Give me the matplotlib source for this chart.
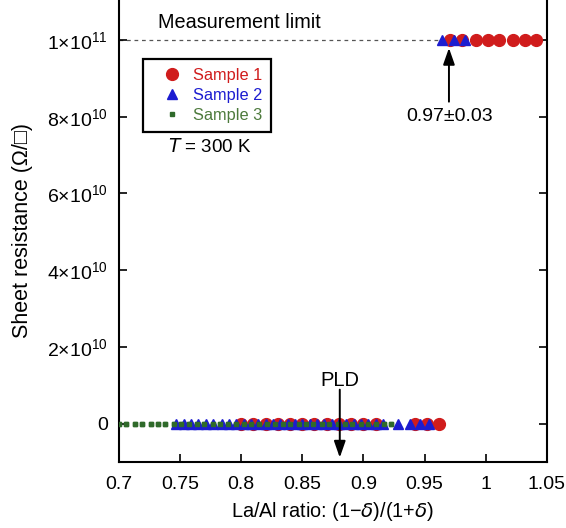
import matplotlib
matplotlib.use("Agg")
import matplotlib.pyplot as plt

plt.rcParams["font.family"] = ["Liberation Sans", "DejaVu Sans"]
plt.rcParams["mathtext.default"] = "regular"

# --- Data ----------------------------------------------------------------
limit = 1e11

s1_x_zero = [0.80, 0.81, 0.82, 0.83, 0.84, 0.85, 0.86, 0.87, 0.88, 0.89,
             0.90, 0.91, 0.942, 0.952, 0.962]
s1_x_limit = [0.971, 0.981, 0.992, 1.002, 1.011, 1.022, 1.032, 1.041]

s2_x_zero = [0.747, 0.753, 0.759, 0.765, 0.771, 0.777, 0.784, 0.790, 0.796,
             0.802, 0.808, 0.814, 0.820, 0.826, 0.832, 0.838, 0.844, 0.850,
             0.856, 0.862, 0.868, 0.874, 0.880, 0.886, 0.892, 0.898, 0.904,
             0.910, 0.916, 0.928, 0.938, 0.946, 0.954]
s2_x_limit = [0.9645, 0.974, 0.9835]

s3_x_zero = [0.700, 0.706, 0.713, 0.719, 0.726, 0.732, 0.738, 0.745, 0.751,
             0.757, 0.764, 0.770, 0.777, 0.783, 0.789, 0.796, 0.802, 0.808,
             0.815, 0.821, 0.828, 0.834, 0.840, 0.847, 0.853, 0.859, 0.866,
             0.872, 0.879, 0.885, 0.891, 0.898, 0.904, 0.910, 0.917, 0.923]

y_ticks = [0, 2e10, 4e10, 6e10, 8e10, 1e11]
y_tick_labels = ["0", r"$2{\times}10^{10}$", r"$4{\times}10^{10}$",
                 r"$6{\times}10^{10}$", r"$8{\times}10^{10}$", r"$1{\times}10^{11}$"]
x_ticks = [0.7, 0.75, 0.8, 0.85, 0.9, 0.95, 1.0, 1.05]
x_tick_labels = ["0.7", "0.75", "0.8", "0.85", "0.9", "0.95", "1", "1.05"]

red = "#d01c1c"
blue = "#1c1cd0"
green = "#2f6a2a"

# --- Plot -----------------------------------------------------------------
fig = plt.figure(figsize=(5.66, 5.28), dpi=100)
ax = fig.add_axes([0.210, 0.125, 0.756, 0.875])

ax.axhline(limit, color="#555555", lw=0.9, ls=(0, (3, 3)), zorder=1)

ax.plot(s3_x_zero, [0] * len(s3_x_zero), ls="none", marker="s", ms=3.4,
        color=green, zorder=2, label="Sample 3")
ax.plot(s1_x_zero, [0] * len(s1_x_zero), ls="none", marker="o", ms=8.5,
        color=red, zorder=3)
ax.plot(s1_x_limit, [limit] * len(s1_x_limit), ls="none", marker="o", ms=8.5,
        color=red, zorder=3, label="Sample 1")
ax.plot(s2_x_zero, [0] * len(s2_x_zero), ls="none", marker="^", ms=6.8,
        color=blue, zorder=4)
ax.plot(s2_x_limit, [limit] * len(s2_x_limit), ls="none", marker="^", ms=6.8,
        color=blue, zorder=4, label="Sample 2")
# green drawn again on top so it shows through as in the original
ax.plot(s3_x_zero, [0] * len(s3_x_zero), ls="none", marker="s", ms=3.4,
        color=green, zorder=5)

ax.set_xlim(0.7, 1.05)
ax.set_ylim(-1e10, 1.104e11)
ax.set_xticks(x_ticks)
ax.set_xticklabels(x_tick_labels)
ax.set_yticks(y_ticks)
ax.set_yticklabels(y_tick_labels)
ax.tick_params(direction="in", length=6, width=1.2, labelsize=14,
               right=True)
ax.tick_params(axis="x", pad=10)
ax.tick_params(axis="y", pad=8)
for side in ["left", "right", "bottom"]:
    ax.spines[side].set_linewidth(1.5)
ax.spines["top"].set_visible(False)

ax.set_xlabel(r"La/Al ratio: (1$-\mathit{\delta}$)/(1+$\mathit{\delta}$)",
              fontsize=14.3, labelpad=5)
ax.set_ylabel("Sheet resistance (Ω/□)", fontsize=15.5, labelpad=10)

# legend with coloured text
handles, labels = ax.get_legend_handles_labels()
order = [labels.index(n) for n in ["Sample 1", "Sample 2", "Sample 3"]]
leg = ax.legend([handles[i] for i in order], [labels[i] for i in order],
                loc="upper left", bbox_to_anchor=(0.056, 0.872),
                borderaxespad=0, fancybox=False, edgecolor="black",
                framealpha=1, fontsize=11.8, handletextpad=0.1,
                handlelength=2.4, borderpad=0.55, labelspacing=0.3)
leg.get_frame().set_linewidth(1.6)
for txt, c in zip(leg.get_texts(), [red, blue, "#4d7a3c"]):
    txt.set_color(c)

ax.text(0.740, 0.721e11, r"$\mathit{T}$ = 300 K", fontsize=13.5,
        va="center")
ax.text(0.7985, 1.046e11, "Measurement limit", fontsize=14.3, ha="center",
        va="center")

arrow = dict(arrowstyle="-|>,head_length=1.0,head_width=0.35", color="black",
             lw=1.4, shrinkA=0, shrinkB=0)
ax.annotate("", xy=(0.970, 0.979e11), xytext=(0.970, 0.839e11),
            arrowprops=arrow)
ax.text(0.9705, 0.80e11, "0.97±0.03", fontsize=14, ha="center", va="center")

ax.annotate("", xy=(0.8807, -0.0885e11), xytext=(0.8807, 0.0885e11),
            arrowprops=arrow, zorder=6)
ax.text(0.8807, 0.112e11, "PLD", fontsize=14.5, ha="center", va="center")

fig.savefig("out.png", dpi=100)
